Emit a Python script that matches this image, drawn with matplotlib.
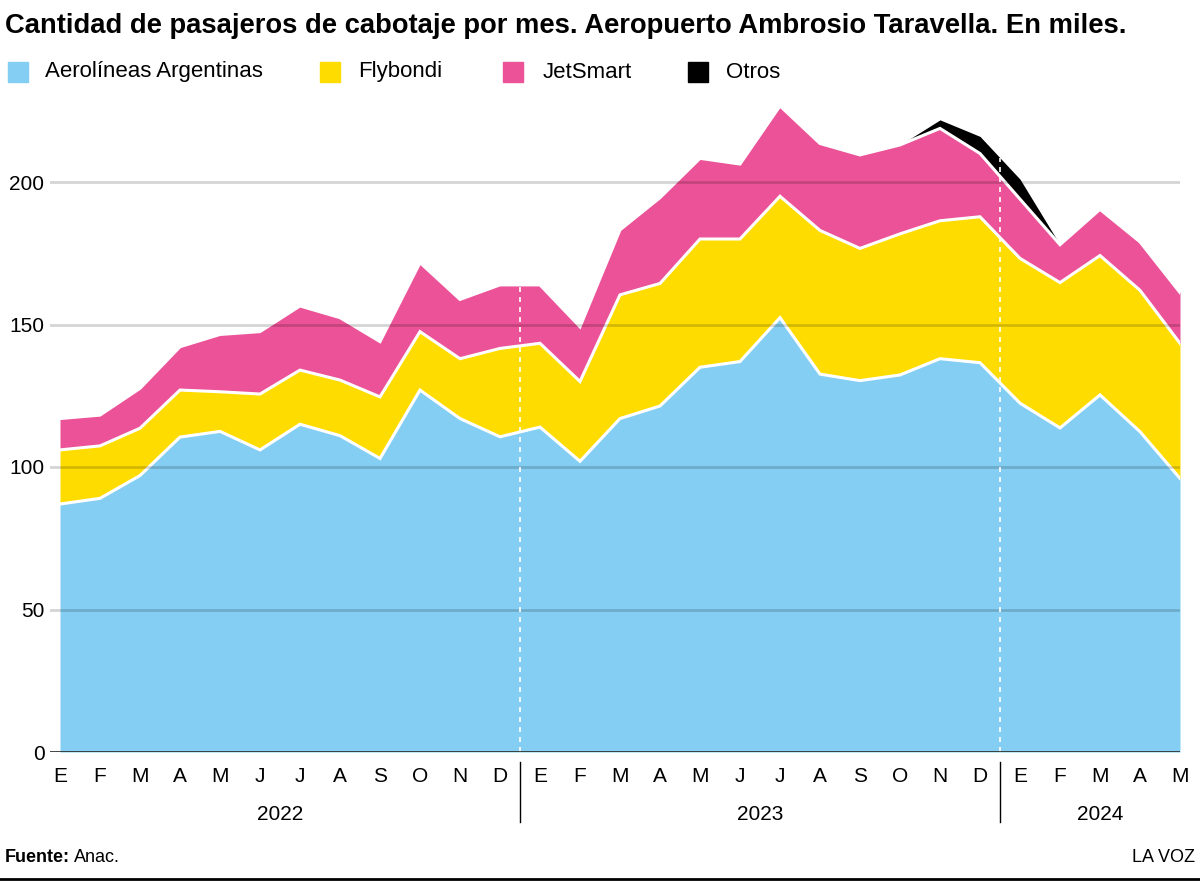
import matplotlib
matplotlib.use("Agg")
import matplotlib.pyplot as plt
import matplotlib.transforms as mtransforms
import numpy as np

plt.rcParams["font.family"] = ["Liberation Sans", "DejaVu Sans"]

# Pasajeros de cabotaje por mes (miles), enero 2022 - mayo 2024
months = ["E", "F", "M", "A", "M", "J", "J", "A", "S", "O", "N", "D",
          "E", "F", "M", "A", "M", "J", "J", "A", "S", "O", "N", "D",
          "E", "F", "M", "A", "M"]
years = ["2022", "2023", "2024"]
year_start = [0, 12, 24]
year_end = [11, 23, 28]

aerolineas = [87, 89, 97, 110.5, 112.5, 106, 115, 111, 103, 127, 117, 110.6,
              114, 102, 117, 121.4, 135, 137, 152.4, 132.6, 130.3, 132.3, 138, 136.6,
              122.4, 113.7, 125.3, 112.4, 96]
flybondi = [19, 18.4, 16.6, 16.5, 13.9, 19.6, 19, 19.5, 21.6, 20.5, 21, 31,
            29.4, 28, 43.4, 43, 45, 43, 42.6, 50.4, 46.4, 49.5, 48.4, 51.2,
            50.8, 51, 48.9, 49.6, 47.4]
jetsmart = [11, 10.8, 14, 15.2, 20.1, 21.9, 22.5, 21.9, 19.4, 24.2, 20.8, 22.3,
            20.5, 19.2, 22.8, 30.1, 28.3, 26.3, 31.7, 30.5, 32.8, 31.2, 32.4, 22.2,
            20.8, 13.3, 16.2, 17, 17.8]
otros = [0, 0, 0, 0, 0, 0, 0, 0, 0, 0, 0, 0,
         0, 0, 0, 0, 0, 0, 0, 0, 0, 0, 3, 6,
         7, 0, 0, 0, 0]

series = [aerolineas, flybondi, jetsmart, otros]
names = ["Aerolíneas Argentinas", "Flybondi", "JetSmart", "Otros"]
colors = ["#84CEF3", "#FFDC00", "#EB5297", "#000000"]

W, H = 1200, 881
fig = plt.figure(figsize=(W / 100, H / 100), dpi=100)


def fy(py):
    return 1 - py / H


ax_left, ax_right, ax_bottom = 50, 1180, 752
ymax = 230
ax_top = ax_bottom - ymax * 2.85
ax = fig.add_axes([ax_left / W, fy(ax_bottom), (ax_right - ax_left) / W, (ax_bottom - ax_top) / H])

x = np.arange(len(months))
data = np.array(series, dtype=float)
cum = np.cumsum(data, axis=0)

base = np.zeros(len(x))
for vals, col in zip(data, colors):
    ax.fill_between(x, base, base + vals, color=col, linewidth=0, zorder=1)
    base = base + vals

for k in range(3):
    ax.plot(x, cum[k], color="white", linewidth=2.2, zorder=2, solid_joinstyle="miter")

for yv in [50, 100, 150, 200]:
    ax.axhline(yv, color="black", alpha=0.17, linewidth=2, zorder=3)
ax.axhline(0, color="#333333", linewidth=2, zorder=4)

# separadores de año
trans = mtransforms.blended_transform_factory(ax.transData, fig.transFigure)
total = cum[-1]
for s in year_start[1:]:
    xs = s - 0.5
    top = np.interp(xs, x, total)
    ax.plot([xs, xs], [0, top], color="white", linewidth=1.2, linestyle=(0, (3, 3)), zorder=3)
    ax.plot([xs, xs], [fy(762), fy(822)], color="black", linewidth=1, transform=trans, clip_on=False)

for i, m in enumerate(months):
    ax.text(i, fy(777), m, transform=trans, ha="center", va="center", fontsize=15)
for yl, a, b in zip(years, year_start, year_end):
    ax.text((a + b) / 2, fy(815), yl, transform=trans, ha="center", va="center", fontsize=15)

ax.set_xlim(-0.25, len(months) - 1)
ax.set_ylim(0, ymax)
ax.set_xticks([])
ax.set_yticks([0, 50, 100, 150, 200])
ax.set_yticklabels(["0", "50", "100", "150", "200"], fontsize=15)
ax.tick_params(axis="y", length=0, pad=4)
for sp in ax.spines.values():
    sp.set_visible(False)

fig.text(5 / W, fy(26), "Cantidad de pasajeros de cabotaje por mes. Aeropuerto Ambrosio Taravella. En miles.",
         fontsize=19.7, fontweight="bold", ha="left", va="center")

leg_sq = [8, 320, 503, 688]
leg_tx = [45, 358, 543, 726]
for sx, tx, name, col in zip(leg_sq, leg_tx, names, colors):
    fig.patches.append(plt.Rectangle((sx / W, fy(82)), 20 / W, 20 / H, color=col,
                                     transform=fig.transFigure, figure=fig))
    fig.text(tx / W, fy(72), name, fontsize=16, ha="left", va="center")

src = fig.text(5 / W, fy(858), "Fuente:", fontsize=13, fontweight="bold", ha="left", va="center")
renderer = fig.canvas.get_renderer()
bb = src.get_window_extent(renderer)
fig.text((bb.x1 + 4) / W, fy(858), "Anac.", fontsize=13, ha="left", va="center")
fig.text(1195 / W, fy(858), "LA VOZ", fontsize=13, ha="right", va="center")
fig.add_artist(plt.Line2D([0, 1], [fy(879), fy(879)], color="black", linewidth=2, transform=fig.transFigure))

fig.savefig("out.png", dpi=100)
